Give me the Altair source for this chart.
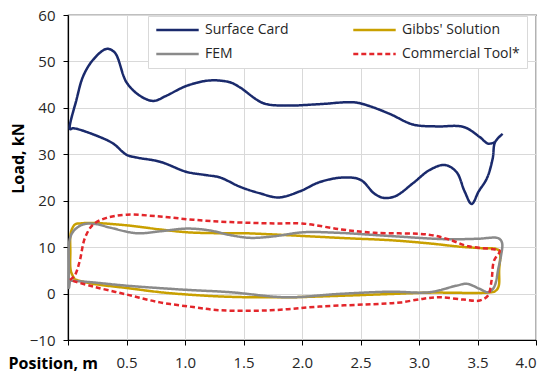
import altair as alt
import pandas as pd

series_names = ["Surface Card", "Gibbs' Solution", "FEM", "Commercial Tool*"]
series_colors = ["#1A2A6C", "#C9A000", "#8A8A8A", "#E3262B"]

surface_x = [3.715, 3.65, 3.63, 3.58, 3.51, 3.45, 3.39, 3.32, 3.22, 3.09, 2.95, 2.80, 2.70, 2.62, 2.50,
             2.35, 2.15, 1.98, 1.80, 1.64, 1.47, 1.30, 1.185, 1.015, 0.786, 0.587, 0.50, 0.387, 0.274,
             0.045, 0.017, 0.074, 0.131, 0.216, 0.33, 0.40, 0.50, 0.615, 0.73, 0.84, 1.01, 1.21,
             1.385, 1.47, 1.67, 1.87, 2.15, 2.44, 2.55, 2.75, 2.95, 3.15, 3.38, 3.52, 3.59, 3.65]
surface_y = [34.4, 32.6, 29.1, 24.8, 22.0, 19.3, 22.0, 26.2, 27.7, 26.6, 23.8, 21.0, 20.6, 21.5, 24.5,
             25.0, 24.0, 22.0, 20.7, 21.6, 23.0, 25.0, 25.5, 26.2, 28.4, 29.3, 29.9, 32.3, 33.7,
             35.6, 35.4, 41.9, 46.9, 50.4, 52.7, 51.9, 45.5, 42.6, 41.5, 42.6, 44.7, 45.9,
             45.5, 44.4, 41.0, 40.5, 40.8, 41.2, 40.6, 38.7, 36.4, 36.0, 35.9, 33.7, 32.3, 32.6]

gibbs_x = [0.06, 0.025, 0.02, 0.025, 0.06, 0.10, 0.22, 0.50, 0.79, 1.02, 1.30, 1.50, 1.70, 2.01, 2.40,
           2.75, 3.09, 3.35, 3.52, 3.66, 3.69, 3.685, 3.68, 3.65, 3.58, 3.09, 2.75, 2.30, 1.87, 1.385,
           1.015, 0.786, 0.50, 0.216, 0.06]
gibbs_y = [3.0, 4.8, 9.0, 13.2, 14.9, 15.1, 15.2, 14.7, 13.8, 13.2, 13.0, 13.0, 12.8, 12.4, 11.9,
           11.5, 10.8, 10.1, 9.8, 9.6, 9.0, 5.0, 1.5, 0.5, 0.2, 0.2, -0.1, -0.5, -0.8, -0.7,
           -0.2, 0.3, 1.2, 2.1, 3.0]

fem_x = [0.017, 0.008, 0.008, 0.012, 0.045, 0.13, 0.23, 0.36, 0.587, 0.786, 1.015, 1.21, 1.385, 1.556,
         1.75, 2.01, 2.30, 2.75, 3.24, 3.50, 3.68, 3.71, 3.70, 3.68, 3.64, 3.59, 3.52, 3.41, 3.32,
         3.09, 2.75, 2.30, 1.87, 1.385, 1.015, 0.50, 0.216, 0.017]
fem_y = [2.8, 1.2, 5.6, 11.3, 13.4, 14.9, 15.0, 14.2, 13.0, 13.4, 14.0, 13.6, 12.6, 12.0,
         12.3, 13.2, 13.1, 12.4, 11.7, 11.8, 11.9, 10.9, 8.0, 5.6, 1.3, 0.3, 1.0, 2.1, 1.7,
         0.3, 0.4, -0.1, -0.8, 0.3, 0.8, 1.7, 2.4, 2.8]

comm_x = [0.017, 0.06, 0.10, 0.145, 0.216, 0.33, 0.50, 0.786, 1.07, 1.385, 1.77, 2.00, 2.34, 2.62,
          3.08, 3.25, 3.42, 3.65, 3.69, 3.64, 3.62, 3.59, 3.52, 3.38, 3.18, 3.04, 2.84, 2.67, 2.15,
          1.73, 1.30, 1.07, 0.786, 0.50, 0.216, 0.017]
comm_y = [2.9, 4.0, 7.0, 12.0, 14.9, 16.3, 17.0, 16.6, 15.9, 15.4, 15.1, 15.1, 13.8, 13.1,
          12.7, 11.7, 10.2, 9.5, 9.2, 7.0, 2.8, -0.4, -1.5, -1.3, -0.8, -1.1, -1.9, -2.2, -2.8,
          -3.6, -3.6, -2.9, -1.9, -0.2, 1.5, 2.9]

x_ticks = [0, 0.5, 1.0, 1.5, 2.0, 2.5, 3.0, 3.5, 4.0]
y_ticks = [-10, 0, 10, 20, 30, 40, 50, 60]

rows = []
for name, xs, ys in zip(series_names,
                        [surface_x, gibbs_x, fem_x, comm_x],
                        [surface_y, gibbs_y, fem_y, comm_y]):
    for i, (xv, yv) in enumerate(zip(xs, ys)):
        rows.append({"series": name, "x": xv, "y": yv, "idx": i})
df = pd.DataFrame(rows)

font = "Open Sans"

chart = alt.Chart(df).mark_line(interpolate="catmull-rom").encode(
    x=alt.X("x:Q", scale=alt.Scale(domain=[0, 4], nice=False),
            axis=alt.Axis(values=x_ticks,
                          labelExpr="datum.value == 0 ? '' : format(datum.value, '.1f')",
                          title="Position, m", titleAnchor="start", titleX=-60, titleY=28,
                          titleAlign="left", titleBaseline="alphabetic",
                          labelPadding=10)),
    y=alt.Y("y:Q", scale=alt.Scale(domain=[-10, 60], nice=False),
            axis=alt.Axis(values=y_ticks, title="Load, kN", titleX=-45, titleY=143,
                          titleAngle=270, titleAlign="center", titleBaseline="alphabetic",
                          labelPadding=8)),
    color=alt.Color("series:N", scale=alt.Scale(domain=series_names, range=series_colors),
                    title=None),
    strokeDash=alt.StrokeDash("series:N",
                              scale=alt.Scale(domain=series_names,
                                              range=[[1, 0], [1, 0], [1, 0], [5, 3]]),
                              title=None),
    strokeWidth=alt.StrokeWidth("series:N",
                                scale=alt.Scale(domain=series_names, range=[2.5, 2.5, 2.5, 1.6]),
                                title=None),
    order="idx:Q",
).properties(
    width=468, height=325,
    autosize=alt.AutoSizeParams(type="none"),
    padding={"left": 60, "top": 7, "right": 6, "bottom": 40},
).configure_view(
    stroke="#000000", strokeWidth=1.2
).configure_axis(
    labelFont=font, labelFontSize=15, labelColor="#262626",
    titleFont=font, titleFontSize=16, titleFontWeight="bold", titleColor="#000000",
    gridColor="#D9D9D9", gridWidth=1,
    domainColor="#000000", domainWidth=1.2,
    tickColor="#000000", tickSize=5, tickWidth=1,
).configure_legend(
    orient="none", legendX=80, legendY=1, columns=2, direction="horizontal",
    labelFont=font, labelFontSize=14, labelColor="#262626",
    symbolType="stroke", symbolSize=1800, labelOffset=5,
    clipHeight=14,
    padding=7, rowPadding=10, columnPadding=63,
    fillColor="#FFFFFF", strokeColor="#D9D9D9",
)

chart.save("out.html", embed_options={"renderer": "svg", "actions": False})
